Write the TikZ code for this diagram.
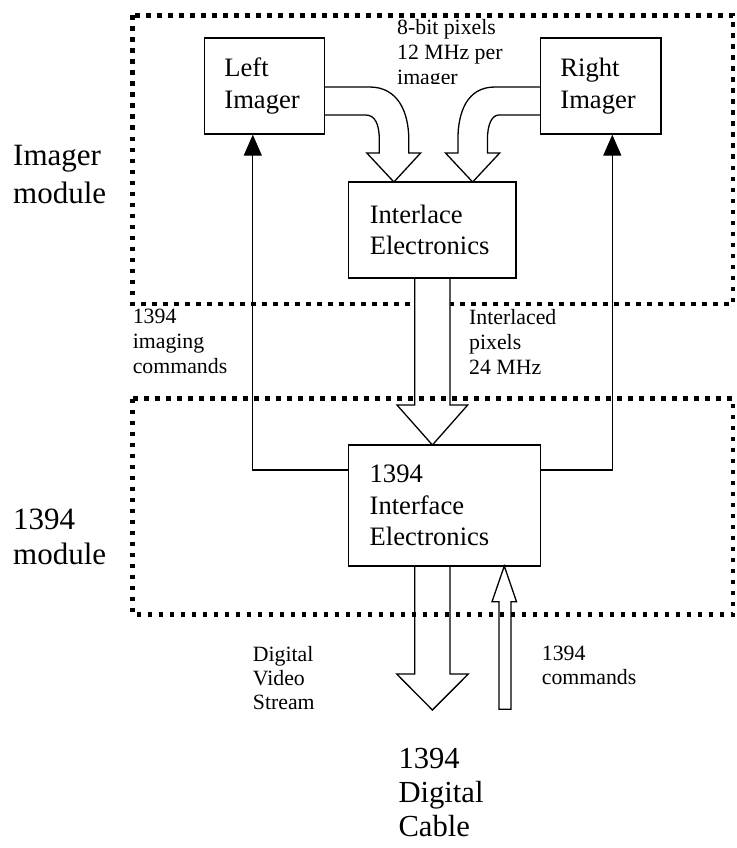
\documentclass[tikz,border=0pt]{standalone}
\usepackage{fontspec}
\setmainfont{Liberation Serif}
\usetikzlibrary{arrows.meta}
\pgfdeclarelayer{back}
\pgfdeclarelayer{mid}
\pgfsetlayers{back,mid,main}
\begin{document}
\begin{tikzpicture}[x=1pt,y=-1pt,
  frame/.style={line width=4.5pt,dash pattern=on 4.5pt off 6.5pt},
  blockbox/.style={draw,line width=1.3pt,inner xsep=20pt,inner ysep=0pt,align=left,
    font=\fontsize{26.6pt}{31.7pt}\selectfont},
  fat/.style={draw,fill=white,line width=1.3pt,line join=miter},
  thinarrow/.style={line width=1.3pt,-{Triangle[length=21pt,width=18pt]}},
  small/.style={inner sep=0pt,anchor=north west,align=left,
    font=\fontsize{21.8pt}{25pt}\selectfont},
  big/.style={inner sep=0pt,anchor=north west,align=left,
    font=\fontsize{31pt}{38pt}\selectfont}]

\useasboundingbox (0,0) rectangle (736,848);

% upper frame (below the arrows)
\begin{pgfonlayer}{back}
  \draw[frame] (132.5,15.5) rectangle (733,304);
\end{pgfonlayer}

% boxes
\node[blockbox,text width=80pt,minimum height=96pt] (L) at (264.4,86) {Left\\Imager};
\node[blockbox,text width=80.6pt,minimum height=96pt] (R) at (600.7,86) {Right\\Imager};
\node[blockbox,inner xsep=21pt,text width=125.3pt,minimum height=96pt] (IL) at (432.4,230) {Interlace\\Electronics};
\node[blockbox,inner xsep=21pt,text width=149.7pt,minimum height=121pt] (IF) at (444.5,505.5) {1394\\Interface\\Electronics};

% block arrows
\begin{pgfonlayer}{mid}
  \draw[fat] (324.3,87) -- (369.5,87) .. controls (398,87) and (408.8,112) .. (408.8,140)
    -- (408.8,153) -- (420.6,153) -- (393.9,182) -- (366.8,153) -- (379.3,153) -- (379.3,140)
    .. controls (379.3,124) and (375,115) .. (365.6,115) -- (324.3,115);
  \draw[fat] (540.4,87) -- (495,87) .. controls (467,87) and (457.9,112) .. (457.9,140)
    -- (457.9,153) -- (445.5,153) -- (472.6,182) -- (499.7,153) -- (487.4,153) -- (487.4,140)
    .. controls (487.4,124) and (492,115) .. (499,115) -- (540.4,115);
  \draw[fat] (414.7,278) -- (414.7,405) -- (397,405) -- (432.4,445) -- (467.7,405) -- (450,405) -- (450,278);
  \draw[fat] (414.7,566) -- (414.7,674) -- (396.7,674) -- (432.4,710) -- (468.3,674) -- (450,674) -- (450,566);
  \draw[fat] (499,709.3) -- (499,601.7) -- (492,601.7) -- (504.3,566) -- (516.5,601.7) -- (511,601.7) -- (511,709.3) -- cycle;
\end{pgfonlayer}

% command lines
\coordinate (lc) at (252.8,470);
\coordinate (rc) at (612.3,470);
\draw[thinarrow] (IF.west |- lc) -- (lc) -- (lc |- L.south);
\draw[thinarrow] (IF.east |- rc) -- (rc) -- (rc |- R.south);

% lower frame (above the arrows)
\draw[frame] (132.5,398.5) rectangle (733,614.5);

% labels
\begin{scope}
  \clip (390,0) rectangle (535,83.5);
  \node[small] (pix) at (397,18.7) {8-bit pixels\\12 MHz per\\imager};
\end{scope}
\node[small] (cmdl) at (132.6,308.8) {1394\\imaging\\commands};
\node[small] (ilp) at (469,308.7) {Interlaced\\pixels\\24 MHz};
\node[small,font=\fontsize{21.8pt}{24pt}\selectfont] (dvs) at (252.7,645.7) {Digital\\Video\\Stream};
\node[small,font=\fontsize{21.8pt}{24pt}\selectfont] (cmd) at (541.7,645.8) {1394\\commands};
\node[big] (imod) at (13,145.5) {Imager\\module};
\node[big,font=\fontsize{31pt}{35pt}\selectfont] (fmod) at (13,509) {1394\\module};
\node[big,font=\fontsize{30.6pt}{34pt}\selectfont] (cab) at (398.3,747.7) {1394\\Digital\\Cable};
\end{tikzpicture}
\end{document}
